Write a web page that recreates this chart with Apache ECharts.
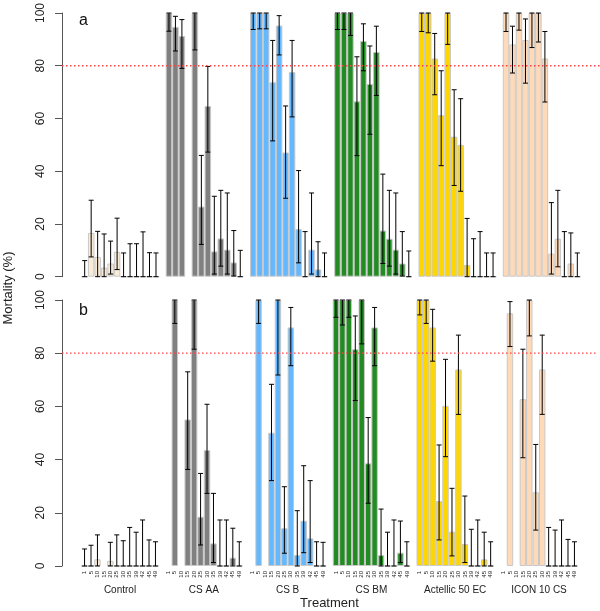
<!DOCTYPE html>
<html>
<head>
<meta charset="utf-8">
<script src="https://cdn.jsdelivr.net/npm/echarts@6/dist/echarts.min.js"></script>
<style>html,body{margin:0;padding:0;background:#fff}#c{width:600px;height:611px}</style>
</head>
<body>
<div id="c"></div>
<script>
const days = ['1','5','10','15','20','25','30','35','39','42','45','49'];
const groups = ['Control','CS AA','CS B','CS BM','Actellic 50 EC','ICON 10 CS'];
const groupColors = ['#FAEBD7','#808080','#63B8FF','#228B22','#FFD700','#FFDAB9'];
const yTicks = [0,20,40,60,80,100];
const threshold = 80;

// Panel a: means, lower and upper error limits (per group, per day)
const meanA = [
  [0,16.6,7.5,3.4,5,9.4,0,0,0,0,0,0],
  [100,94.75,91.25,null,100,26.6,64.75,9.6,14.5,10.25,5.4,0],
  [100,100,100,73.75,95.25,47.1,77.6,18.1,0,10.25,2.75,0],
  [100,100,100,66.5,89.4,73.1,85.25,17.5,14.4,10.25,5,0],
  [100,100,82.75,61.25,100,53.1,50,4.4,0,0,0,0],
  [100,88.1,100,89.75,100,100,82.75,8.75,14.4,0,5,0]
];
const lowA = [
  [0,7.5,0,0,1,2.7,0,0,0,0,0,0],
  [93.1,85.6,79,null,86,12.25,47.25,1,4,1,0.25,0],
  [93.75,94,94,51.5,84.1,29.75,60.6,5.25,0,1,0,0],
  [93.75,93.75,91.5,45.9,78.1,54,68.75,5,4,1,0.25,0],
  [93,92.5,69,42.1,88.1,34.6,32.4,0,0,0,0,0],
  [93,77.25,93.5,73.4,86.9,89,66.25,1,3.75,0,0,0]
];
const highA = [
  [6.1,29,17.2,16.2,13.5,22.2,9,12.5,12.5,17,9.1,9],
  [100,98.75,97.5,null,100,46,79.75,30.5,32.75,31.75,17.5,10],
  [100,100,100,89.6,99,64.75,89.6,40.25,17.1,31.75,13.25,9],
  [100,100,100,83.4,95.9,87.5,95,38.9,32.75,31.75,17.1,9.75],
  [100,100,92.25,78.1,100,70.9,67.5,22.1,14.4,17.1,9,9],
  [100,95,100,97.75,100,100,93,28.1,32.75,17.1,16.6,9]
];

// Panel b
const meanB = [
  [0,0,2.5,null,1.9,0,0,0,0,0,0,0],
  [null,100,null,55.1,100,18.5,43.6,8.5,0,0,3.1,0],
  [null,100,null,50.1,100,14.2,89.7,4.1,17,10.4,0,0],
  [100,100,100,81.5,100,38.6,89.7,4.1,0,0,5,0],
  [100,100,89.7,24.4,60.2,12.9,73.9,8.3,0,0,2.5,0],
  [null,95,null,62.7,100,27.7,73.9,0,0,0,0,0]
];
const lowB = [
  [0,0,0,null,0,0,0,0,0,0,0,0],
  [null,91.2,null,36.3,81.5,7.9,27.3,1.3,0,0,0,0],
  [null,91.2,null,32.1,71.8,4.8,75.3,0,5,1.3,0,0],
  [93.5,90.6,93.5,62.2,83.5,23.6,75.3,0,0,0,1.3,0],
  [94.4,91.2,77,9.8,41.1,3.8,57,1.3,0,0,0,0],
  [null,82.5,null,40.7,86.5,13.5,57,0,0,0,0,0]
];
const highB = [
  [6.4,7.8,11.7,null,8.9,11.7,9.5,14.5,12.7,17.3,9.8,9.1],
  [null,100,null,73,100,34.8,60.8,27.3,17.3,17.3,14.2,9.1],
  [null,100,null,68.3,100,29.8,97.2,20.8,37.7,32.1,9.1,8.9],
  [100,100,100,94,100,55.8,97.2,21.4,12.7,17.3,16.9,9.1],
  [100,100,96.5,45.5,77.7,29.2,86.8,26.3,13.8,17.3,12.7,9.1],
  [null,99.4,null,81.5,100,45.7,86.8,14.5,13.5,17.3,10,9.1]
];

// ---- build category slots: 3 padding, groups of 12 separated by one empty slot, 3 padding
const PAD = 3, STEP = days.length + 1;
const slotIndex = (g, i) => PAD + g * STEP + i;
const nSlots = PAD * 2 + groups.length * days.length + (groups.length - 1);
const dayCats = new Array(nSlots).fill('').map((_, k) => 'p' + k);
const dayLabels = {};
groups.forEach((_, g) => days.forEach((d, i) => { dayLabels[slotIndex(g, i)] = d; }));
const groupCats = new Array(nSlots + 1).fill('').map((_, k) => 'b' + k);
const groupLabels = {};
groups.forEach((name, g) => { groupLabels[PAD + g * STEP + days.length / 2] = name; });

function barData(mean) {
  const arr = new Array(nSlots).fill('-');
  groups.forEach((_, g) => mean[g].forEach((v, i) => {
    if (v !== null) arr[slotIndex(g, i)] = { value: v, itemStyle: { color: groupColors[g] } };
  }));
  return arr;
}
function errData(mean, low, high) {
  const arr = [];
  groups.forEach((_, g) => mean[g].forEach((v, i) => {
    if (v !== null) arr.push([slotIndex(g, i), low[g][i], high[g][i]]);
  }));
  return arr;
}
function renderErr(params, api) {
  const x = api.value(0);
  const lo = api.coord([x, api.value(1)]);
  const hi = api.coord([x, api.value(2)]);
  const cx = lo[0], w = 2.5;
  const st = { stroke: '#000', lineWidth: 1 };
  return { type: 'group', children: [
    { type: 'line', shape: { x1: cx, y1: lo[1], x2: cx, y2: hi[1] }, style: st },
    { type: 'line', shape: { x1: cx - w, y1: lo[1], x2: cx + w, y2: lo[1] }, style: st },
    { type: 'line', shape: { x1: cx - w, y1: hi[1], x2: cx + w, y2: hi[1] }, style: st }
  ]};
}
function renderThreshold(params, api) {
  const cs = params.coordSys;
  const y = api.coord([0, api.value(1)])[1];
  return { type: 'line', silent: true,
    shape: { x1: cs.x, y1: y, x2: cs.x + cs.width, y2: y },
    style: { stroke: '#ff4040', lineWidth: 1.3, lineDash: [1.5, 2.5] } };
}

const FONT = 'Liberation Sans, Arial, Helvetica, sans-serif';
const yAxisCommon = {
  type: 'value', min: yTicks[0], max: yTicks[yTicks.length - 1], interval: 20,
  splitLine: { show: false },
  axisLine: { show: true, lineStyle: { color: '#555', width: 1 } },
  axisTick: { show: true, length: 7, lineStyle: { color: '#555' } },
  axisLabel: { rotate: 90, margin: 15, fontSize: 12, color: '#222', fontFamily: FONT }
};
const barCommon = {
  type: 'bar', barWidth: '100%', barCategoryGap: '0%',
  itemStyle: { borderColor: '#C8C8C8', borderWidth: 1 }
};

const option = {
  animation: false,
  grid: [
    { left: 62, right: 0, top: 10, height: 266.7 },
    { left: 62, right: 0, top: 300, height: 266 }
  ],
  xAxis: [
    { type: 'category', gridIndex: 0, data: dayCats, show: false },
    { type: 'category', gridIndex: 1, data: dayCats,
      axisLine: { show: false }, axisTick: { show: false },
      axisLabel: { interval: 0, rotate: 90, fontSize: 6, margin: 5, color: '#222', fontFamily: FONT,
        formatter: (v, k) => dayLabels[k] || '' } },
    { type: 'category', gridIndex: 1, data: groupCats, boundaryGap: false, position: 'bottom',
      axisLine: { show: false }, axisTick: { show: false },
      axisLabel: { interval: 0, fontSize: 10, margin: 19, color: '#222', fontFamily: FONT,
        formatter: (v, k) => groupLabels[k] || '' },
      name: 'Treatment', nameLocation: 'middle', nameGap: 31,
      nameTextStyle: { fontSize: 13, color: '#222', fontFamily: FONT } }
  ],
  yAxis: [
    Object.assign({ gridIndex: 0 }, yAxisCommon),
    Object.assign({ gridIndex: 1 }, yAxisCommon)
  ],
  series: [
    Object.assign({ xAxisIndex: 0, yAxisIndex: 0, data: barData(meanA) }, barCommon),
    Object.assign({ xAxisIndex: 1, yAxisIndex: 1, data: barData(meanB) }, barCommon),
    { type: 'custom', xAxisIndex: 0, yAxisIndex: 0, renderItem: renderErr,
      encode: { x: 0, y: [1, 2] }, data: errData(meanA, lowA, highA), z: 5 },
    { type: 'custom', xAxisIndex: 1, yAxisIndex: 1, renderItem: renderErr,
      encode: { x: 0, y: [1, 2] }, data: errData(meanB, lowB, highB), z: 5 },
    { type: 'custom', xAxisIndex: 0, yAxisIndex: 0, renderItem: renderThreshold, silent: true,
      encode: { x: 0, y: 1 }, data: [[0, threshold]], z: 6 },
    { type: 'custom', xAxisIndex: 1, yAxisIndex: 1, renderItem: renderThreshold, silent: true,
      encode: { x: 0, y: 1 }, data: [[0, threshold]], z: 6 }
  ],
  graphic: [
    { type: 'text', left: 79, top: 13, style: { text: 'a', fill: '#111', font: '16px ' + FONT } },
    { type: 'text', left: 79, top: 303, style: { text: 'b', fill: '#111', font: '16px ' + FONT } },
    { type: 'text', x: 8, y: 288, rotation: Math.PI / 2,
      style: { text: 'Mortality (%)', fill: '#222', font: '13px ' + FONT, textAlign: 'center', textVerticalAlign: 'middle' } }
  ]
};
echarts.init(document.getElementById('c'), null, { renderer: 'canvas' }).setOption(option);
</script>
</body>
</html>
